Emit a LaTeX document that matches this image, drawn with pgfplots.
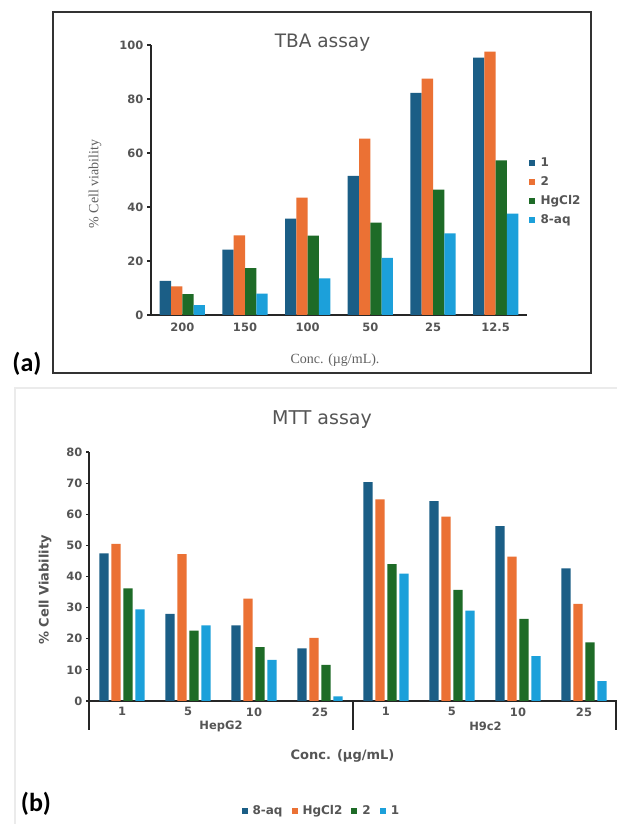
\documentclass[border=0pt]{standalone}
\usepackage{fontspec}
\setmainfont{DejaVu Sans}
\newfontfamily\serifA{Liberation Serif}
\newfontfamily\labfont{Carlito}
\usepackage{pgfplots}
\pgfplotsset{compat=1.18}
\definecolor{cA}{HTML}{1B5E86}
\definecolor{cB}{HTML}{EB7134}
\definecolor{cC}{HTML}{1E6B27}
\definecolor{cD}{HTML}{1CA0DA}
\definecolor{txt}{HTML}{555555}
\pgfplotsset{
  sqleg/.style={legend image code/.code={\fill[##1] (0pt,-3pt) rectangle (6pt,3pt);}},
}
\begin{document}
\begin{tikzpicture}[x=1pt,y=1pt]
\useasboundingbox (0,0) rectangle (616,824);
\fill[white] (0,0) rectangle (616,824);
% frames
\draw[line width=2pt, black!80] (53,812) rectangle (591,451);
\draw[line width=1.2pt, black!8] (15,-5) -- (15,436) -- (625,436);

% ---------------- (a) TBA assay ----------------
\begin{axis}[at={(151pt,509pt)}, anchor=south west, scale only axis,
  width=376pt, height=270pt,
  ymin=0, ymax=100, xmin=-0.5, xmax=5.5,
  axis lines=left, axis line style={line width=1.6pt, black!85, -},
  ytick={0,20,...,100}, xtick={0,...,5}, xticklabels={200,150,100,50,25,12.5},
  major tick length=4pt, tick align=outside,
  xtick style={draw=none}, ytick style={line width=1.2pt, black!85},
  ybar=0pt, bar width=11.3pt,
  tick label style={font=\bfseries\fontsize{11.5}{13}\selectfont, text=txt},
  /pgf/number format/assume math mode=true,
  legend style={at={(1.005,0.59)}, anchor=north west, draw=none, fill=none,
    font=\bfseries\fontsize{12}{14}\selectfont, text=txt, row sep=4.5pt, inner sep=0pt,
    /tikz/every odd column/.style={column sep=3.5pt}},
  legend cell align=left,
]
\addplot[fill=cA, draw=none, sqleg] coordinates {(0,12.6) (1,24.2) (2,35.7) (3,51.5) (4,82.3) (5,95.3)};
\addplot[fill=cB, draw=none, sqleg] coordinates {(0,10.6) (1,29.5) (2,43.5) (3,65.3) (4,87.5) (5,97.5)};
\addplot[fill=cC, draw=none, sqleg] coordinates {(0,7.7) (1,17.4) (2,29.4) (3,34.2) (4,46.4) (5,57.3)};
\addplot[fill=cD, draw=none, sqleg] coordinates {(0,3.7) (1,7.9) (2,13.6) (3,21.2) (4,30.2) (5,37.5)};
\legend{1,2,HgCl2,8-aq}
\end{axis}
\node[font=\fontsize{18.5}{22}\selectfont, text=txt] at (322.5,781) {TBA assay};
\node[font=\serifA\fontsize{14}{16}\selectfont, text=black!62, rotate=90] at (95,640) {\% Cell viability};
\node[font=\serifA\fontsize{14}{16}\selectfont, text=black!62] at (335,464) {Conc. (µg/mL).};
\node[font=\labfont\bfseries\fontsize{26}{30}\selectfont] at (27,460) {(a)};

% ---------------- (b) MTT assay ----------------
\begin{axis}[at={(89pt,123pt)}, anchor=south west, scale only axis,
  width=528pt, height=249pt,
  ymin=0, ymax=80, xmin=-0.5, xmax=7.5,
  axis lines=left, axis line style={line width=1.8pt, black!85, -},
  ytick={0,10,...,80}, xtick={0,...,7}, xticklabels={1,5,10,25,1,5,10,25},
  major tick length=3pt, tick align=outside,
  xtick style={draw=none}, ytick style={line width=1.2pt, black!85},
  ybar=2.7pt, bar width=9.3pt,
  tick label style={font=\bfseries\fontsize{11.5}{13}\selectfont, text=txt},
  /pgf/number format/assume math mode=true,
  legend columns=4,
  legend style={at={(0.44,-0.44)}, anchor=center, draw=none, fill=none,
    font=\bfseries\fontsize{12}{14}\selectfont, text=txt, inner sep=0pt,
    /tikz/every odd column/.style={column sep=3pt},
    /tikz/every even column/.style={column sep=7pt}},
]
\addplot[fill=cA, draw=none, sqleg] coordinates {(0,47.4) (1,28.0) (2,24.3) (3,16.9) (4,70.3) (5,64.2) (6,56.2) (7,42.6)};
\addplot[fill=cB, draw=none, sqleg] coordinates {(0,50.5) (1,47.2) (2,32.9) (3,20.3) (4,64.8) (5,59.2) (6,46.4) (7,31.2)};
\addplot[fill=cC, draw=none, sqleg] coordinates {(0,36.2) (1,22.6) (2,17.3) (3,11.6) (4,44.0) (5,35.7) (6,26.4) (7,18.8)};
\addplot[fill=cD, draw=none, sqleg] coordinates {(0,29.4) (1,24.3) (2,13.2) (3,1.5) (4,40.9) (5,29.0) (6,14.4) (7,6.4)};
\legend{8-aq,HgCl2,2,1}
\end{axis}
\draw[line width=1.8pt, black!85] (89,124) -- (89,94);
\draw[line width=1.8pt, black!85] (353,123) -- (353,94);
\draw[line width=1.8pt, black!85] (616,123) -- (616,94);
\node[font=\bfseries\fontsize{11.5}{13}\selectfont, text=txt] at (221,98) {HepG2};
\node[font=\bfseries\fontsize{11.5}{13}\selectfont, text=txt] at (485.5,98) {H9c2};
\node[font=\fontsize{19}{22}\selectfont, text=txt] at (322,404) {MTT assay};
\node[font=\bfseries\fontsize{13}{15}\selectfont, text=txt, rotate=90] at (45,234) {\% Cell Viability};
\node[font=\bfseries\fontsize{13}{15}\selectfont, text=txt] at (342.5,68) {Conc. (µg/mL)};
\node[font=\labfont\bfseries\fontsize{26}{30}\selectfont] at (36,20) {(b)};
\end{tikzpicture}
\end{document}
